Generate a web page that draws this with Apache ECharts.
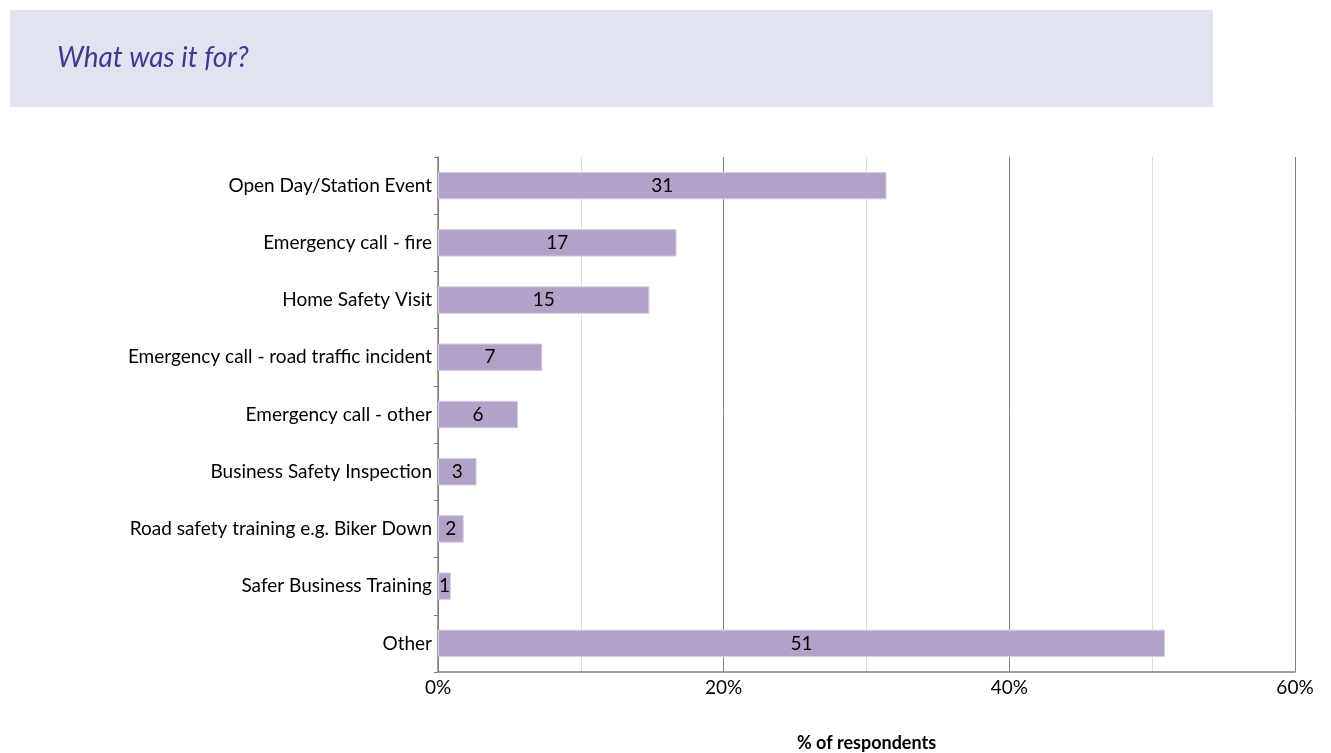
<!DOCTYPE html>
<html>
<head>
<meta charset="utf-8">
<script src="https://cdn.jsdelivr.net/npm/echarts@6/dist/echarts.min.js"></script>
<style>
  html, body { margin: 0; padding: 0; background: #ffffff; overflow: hidden; }
  #chart { width: 1331px; height: 753px; }
</style>
</head>
<body>
<div id="chart"></div>
<script>
// Purpose of contact with the fire service, % of respondents
const categories = [
  'Open Day/Station Event',
  'Emergency call - fire',
  'Home Safety Visit',
  'Emergency call - road traffic incident',
  'Emergency call - other',
  'Business Safety Inspection',
  'Road safety training e.g. Biker Down',
  'Safer Business Training',
  'Other'
];
const percentages = [31.4, 16.7, 14.8, 7.3, 5.6, 2.7, 1.8, 0.9, 50.9];
const xTicks = [0, 20, 40, 60];

const FONT = 'Lato, "Open Sans", sans-serif';

const chart = echarts.init(document.getElementById('chart'), null, { renderer: 'canvas' });

chart.setOption({
  animation: false,
  textStyle: { fontFamily: FONT },
  graphic: [
    {
      type: 'rect',
      shape: { x: 10, y: 10, width: 1203, height: 97 },
      style: { fill: '#E2E3F0' },
      z: 0
    },
    {
      type: 'text',
      left: 57,
      top: 44,
      style: {
        text: 'What was it for?',
        fill: '#3E3A8E',
        font: 'italic 28px ' + FONT
      },
      z: 1
    }
  ],
  grid: { left: 438, width: 857, top: 157, height: 515, outerBoundsMode: 'none', containLabel: false },
  xAxis: {
    type: 'value',
    min: 0,
    max: 60,
    interval: 10,
    name: '% of respondents',
    nameLocation: 'middle',
    nameGap: 62,
    nameTextStyle: { fontFamily: FONT, fontWeight: 'bold', fontSize: 18, color: '#000' },
    axisLine: { show: true, lineStyle: { color: '#7F7F7F', width: 1.5 } },
    axisTick: { show: false },
    axisLabel: {
      color: '#000',
      fontSize: 19,
      margin: 6,
      formatter: v => (xTicks.indexOf(v) >= 0 ? v + '%' : '')
    },
    splitLine: {
      show: true,
      lineStyle: { color: ['#808080', '#DCDCDC'], width: 1 }
    }
  },
  yAxis: {
    type: 'category',
    data: categories,
    inverse: true,
    axisLine: { show: true, lineStyle: { color: '#7F7F7F', width: 1.5 } },
    axisTick: { show: true, length: 4, lineStyle: { color: '#7F7F7F' } },
    axisLabel: { color: '#000', fontSize: 19, margin: 6 },
    splitLine: { show: false }
  },
  series: [{
    type: 'bar',
    data: percentages,
    barWidth: '48%',
    itemStyle: { color: '#B3A2C7', borderColor: '#D6CCE3', borderWidth: 1 },
    label: {
      show: true,
      position: 'inside',
      color: '#000',
      fontSize: 19,
      fontFamily: FONT,
      formatter: p => Math.round(p.value)
    }
  }]
});
</script>
</body>
</html>
